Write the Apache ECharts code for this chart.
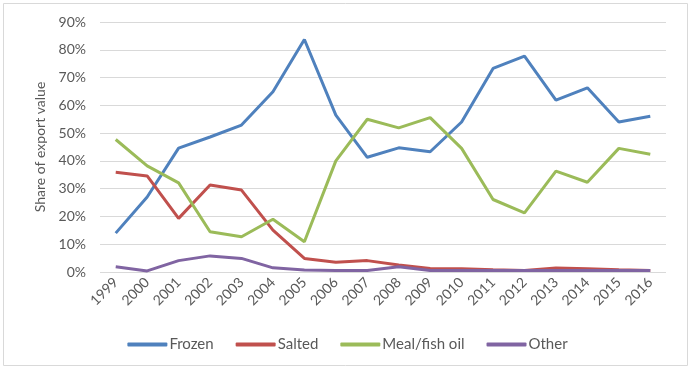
<!DOCTYPE html>
<html><head><meta charset="utf-8">
<script src="https://cdn.jsdelivr.net/npm/echarts@6/dist/echarts.min.js"></script>
<style>html,body{margin:0;padding:0;background:#fff}#c{width:695px;height:375px}</style>
</head><body><div id="c"></div>
<script>
var years = ['1999','2000','2001','2002','2003','2004','2005','2006','2007','2008','2009','2010','2011','2012','2013','2014','2015','2016'];
var frozen = [14.0,27.0,44.6,48.6,52.9,64.9,83.7,56.5,41.3,44.7,43.3,54.0,73.3,77.7,61.9,66.3,54.0,56.1];
var salted = [35.9,34.6,19.3,31.3,29.5,15.1,4.9,3.5,4.1,2.5,1.3,1.2,0.8,0.5,1.4,1.2,0.8,0.5];
var meal = [47.7,38.2,32.1,14.5,12.7,19.0,10.9,40.0,55.0,51.9,55.6,44.5,26.1,21.3,36.3,32.3,44.5,42.4];
var other = [1.9,0.4,4.1,5.8,4.9,1.5,0.7,0.5,0.5,1.9,0.5,0.5,0.5,0.5,0.5,0.5,0.5,0.5];
var yTicks = [0,10,20,30,40,50,60,70,80,90];

var font = 'Lato, "Open Sans", sans-serif';
var chart = echarts.init(document.getElementById('c'), null, {renderer:'canvas'});
function mk(name, data, color){
  return {name:name, type:'line', data:data, symbol:'none', showSymbol:false,
    lineStyle:{width:3, color:color}, itemStyle:{color:color}, animation:false};
}
chart.setOption({
  animation:false,
  textStyle:{fontFamily:font},
  graphic:[{type:'rect', shape:{x:3.5,y:3.5,width:684,height:362}, style:{fill:'none', stroke:'#d9d9d9', lineWidth:1}, z:-1}],
  grid:{left:100, right:29, top:22, bottom:103},
  legend:{
    data:['Frozen','Salted','Meal/fish oil','Other'],
    top:332, left:'center', icon:'roundRect', itemWidth:40, itemHeight:4, itemGap:22,
    textStyle:{fontFamily:font, fontSize:15, color:'#595959', padding:[0,0,0,-3]}
  },
  xAxis:{type:'category', data:years, boundaryGap:true,
    axisLine:{show:false}, axisTick:{show:false},
    axisLabel:{interval:0, rotate:45, fontFamily:font, fontSize:14, color:'#595959', margin:8}
  },
  yAxis:{type:'value', min:yTicks[0], max:yTicks[yTicks.length-1], interval:10,
    name:'Share of export value', nameLocation:'middle', nameGap:52,
    nameTextStyle:{fontFamily:font, fontSize:14, color:'#595959'},
    axisLine:{show:false}, axisTick:{show:false},
    axisLabel:{formatter:function(v){return v+'%';}, fontFamily:font, fontSize:14, color:'#595959', margin:14},
    splitLine:{lineStyle:{color:'#d9d9d9', width:1}}
  },
  series:[mk('Frozen',frozen,'#4F81BD'), mk('Salted',salted,'#C0504D'), mk('Meal/fish oil',meal,'#9BBB59'), mk('Other',other,'#8064A2')]
});
</script></body></html>
